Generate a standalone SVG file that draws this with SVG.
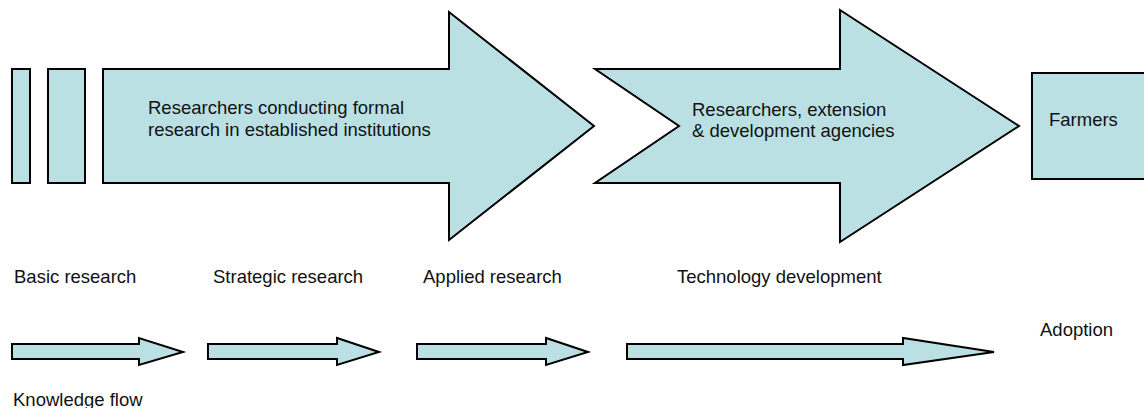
<svg xmlns="http://www.w3.org/2000/svg" width="1144" height="408" viewBox="0 0 1144 408">
<style>
.s{fill:#BBE0E3;stroke:#000;stroke-width:2;stroke-linejoin:miter}
.t{font-family:"Liberation Sans",Arial,sans-serif;font-size:18.5px;fill:#111}
</style>
<rect width="1144" height="408" fill="#fff"/>
<g id="bar1"><rect class="s" x="12" y="69" width="18" height="114"/></g>
<g id="bar2"><rect class="s" x="48" y="69" width="37" height="114"/></g>
<g id="institutions">
<path class="s" d="M103,69 L449,69 L449,12 L594,126 L449,240 L449,183 L103,183 Z"/>
<text class="t" x="148" y="114">Researchers conducting formal</text>
<text class="t" x="148" y="136">research in established institutions</text>
</g>
<g id="agencies">
<path class="s" d="M595,69 L840,69 L840,10 L1019,126 L840,242 L840,183 L595,183 L679,126 Z"/>
<text class="t" x="692" y="116">Researchers, extension</text>
<text class="t" x="692" y="137">&amp; development agencies</text>
</g>
<g id="farmers">
<rect class="s" x="1032" y="73" width="130" height="106"/>
<text class="t" x="1049" y="126">Farmers</text>
</g>
<g id="labels">
<text class="t" x="14" y="283">Basic research</text>
<text class="t" x="213" y="283">Strategic research</text>
<text class="t" x="423" y="283">Applied research</text>
<text class="t" x="677" y="283">Technology development</text>
<text class="t" x="1040" y="336">Adoption</text>
<text class="t" x="13" y="406">Knowledge flow</text>
</g>
<g id="connectors">
<path class="s" d="M12,344 L139,344 L139,338 L183,352 L139,365 L139,359 L12,359 Z"/>
<path class="s" d="M208,344 L337,344 L337,338 L379,352 L337,365 L337,359 L208,359 Z"/>
<path class="s" d="M417,344 L546,344 L546,338 L588,352 L546,365 L546,359 L417,359 Z"/>
<path class="s" d="M627,344 L903,344 L903,338 L994,352 L903,365 L903,359 L627,359 Z"/>
</g>
</svg>
